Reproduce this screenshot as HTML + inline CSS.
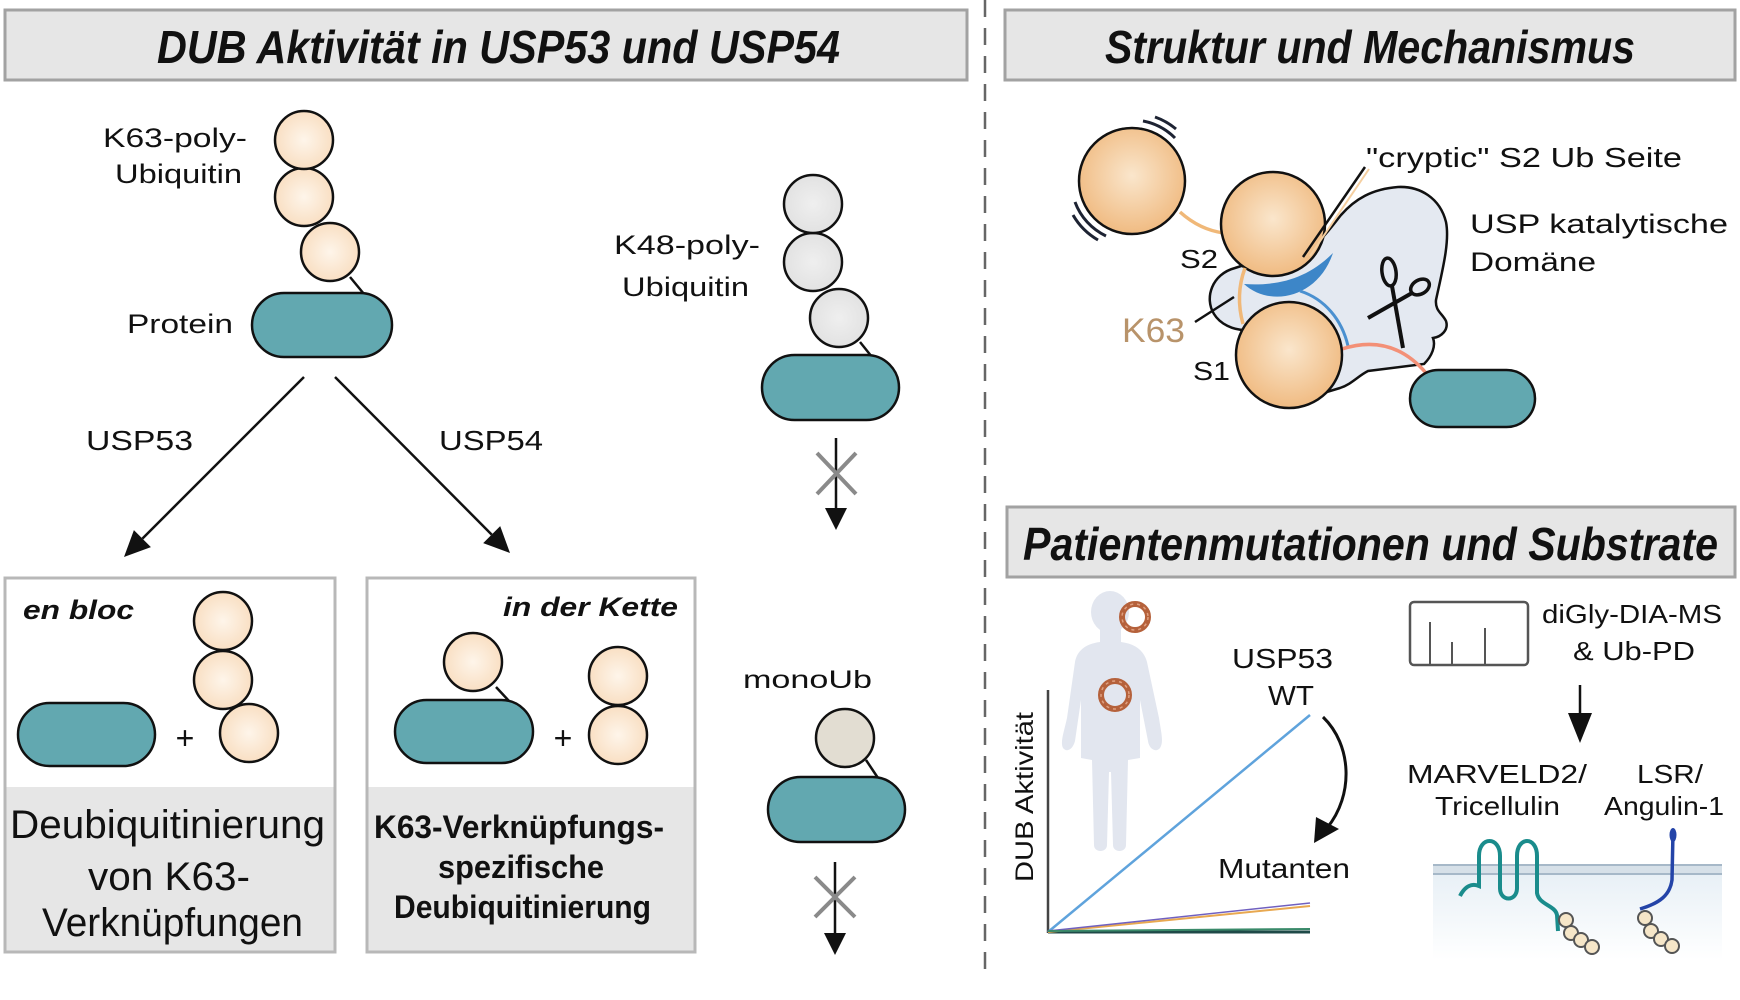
<!DOCTYPE html>
<html><head><meta charset="utf-8"><style>
html,body{margin:0;padding:0;background:#fff;}
svg{display:block;}
text{font-family:"Liberation Sans",Arial,sans-serif;fill:#111;}
</style></head><body>
<svg width="1740" height="1000" viewBox="0 0 1740 1000" xmlns="http://www.w3.org/2000/svg">
<defs>
<radialGradient id="pale" cx="50%" cy="50%" r="50%"><stop offset="0" stop-color="#fef5ea"/><stop offset="1" stop-color="#f9dfc3"/></radialGradient>
<radialGradient id="org" cx="50%" cy="45%" r="55%"><stop offset="0" stop-color="#fae6cc"/><stop offset="1" stop-color="#f0bb82"/></radialGradient>
<radialGradient id="gry" cx="50%" cy="50%" r="50%"><stop offset="0" stop-color="#efefef"/><stop offset="1" stop-color="#e2e2e2"/></radialGradient>
<linearGradient id="cyto" x1="0" y1="0" x2="0" y2="1"><stop offset="0" stop-color="#e8f0f6"/><stop offset="1" stop-color="#ffffff"/></linearGradient>
</defs>

<!-- divider -->
<line x1="985" y1="0" x2="985" y2="980" stroke="#666" stroke-width="2.5" stroke-dasharray="17 11"/>

<!-- title boxes -->
<rect x="5" y="10" width="962" height="70" fill="#e6e6e6" stroke="#a2a2a2" stroke-width="3"/>
<text x="157" y="63" font-size="46" font-weight="bold" font-style="italic" textLength="683" lengthAdjust="spacingAndGlyphs">DUB Aktivität in USP53 und USP54</text>
<rect x="1005" y="10" width="730" height="70" fill="#e6e6e6" stroke="#a2a2a2" stroke-width="3"/>
<text x="1105" y="63" font-size="46" font-weight="bold" font-style="italic" textLength="530" lengthAdjust="spacingAndGlyphs">Struktur und Mechanismus</text>
<rect x="1007" y="507" width="728" height="70" fill="#e6e6e6" stroke="#a2a2a2" stroke-width="3"/>
<text x="1023" y="560" font-size="46" font-weight="bold" font-style="italic" textLength="695" lengthAdjust="spacingAndGlyphs">Patientenmutationen und Substrate</text>

<!-- K63 chain -->
<text x="103" y="147" font-size="27" textLength="144" lengthAdjust="spacingAndGlyphs">K63-poly-</text>
<text x="115" y="183" font-size="27" textLength="127" lengthAdjust="spacingAndGlyphs">Ubiquitin</text>
<text x="127" y="333" font-size="27" textLength="106" lengthAdjust="spacingAndGlyphs">Protein</text>
<line x1="350" y1="277" x2="364" y2="294" stroke="#111" stroke-width="2.5"/>
<circle cx="330" cy="252" r="29" fill="url(#pale)" stroke="#111" stroke-width="2.5"/>
<circle cx="304" cy="197" r="29" fill="url(#pale)" stroke="#111" stroke-width="2.5"/>
<circle cx="304" cy="140" r="29" fill="url(#pale)" stroke="#111" stroke-width="2.5"/>
<rect x="252" y="293" width="140" height="64" rx="32" fill="#62a8b0" stroke="#111" stroke-width="2.5"/>

<!-- branching arrows -->
<line x1="304" y1="377" x2="142.4" y2="538.6" stroke="#111" stroke-width="2.5"/>
<polygon points="124,557 150.9,547.1 133.9,530.1" fill="#111"/>
<line x1="335" y1="377" x2="491.7" y2="534.6" stroke="#111" stroke-width="2.5"/>
<polygon points="510,553 483.2,543.1 500.2,526.1" fill="#111"/>
<text x="86" y="450" font-size="28" textLength="107" lengthAdjust="spacingAndGlyphs">USP53</text>
<text x="439" y="450" font-size="28" textLength="104" lengthAdjust="spacingAndGlyphs">USP54</text>

<!-- K48 chain -->
<text x="614" y="254" font-size="27" textLength="146" lengthAdjust="spacingAndGlyphs">K48-poly-</text>
<text x="622" y="296" font-size="27" textLength="127" lengthAdjust="spacingAndGlyphs">Ubiquitin</text>
<line x1="860" y1="342" x2="872" y2="357" stroke="#111" stroke-width="2.5"/>
<circle cx="839" cy="318" r="29" fill="url(#gry)" stroke="#111" stroke-width="2.5"/>
<circle cx="813" cy="262" r="29" fill="url(#gry)" stroke="#111" stroke-width="2.5"/>
<circle cx="813" cy="204" r="29" fill="url(#gry)" stroke="#111" stroke-width="2.5"/>
<rect x="762" y="355" width="137" height="65" rx="32.5" fill="#62a8b0" stroke="#111" stroke-width="2.5"/>
<line x1="836" y1="438" x2="836" y2="510" stroke="#111" stroke-width="2.5"/>
<polygon points="825,508 847,508 836,530" fill="#111"/>
<line x1="817" y1="453" x2="856" y2="494" stroke="#8a8a8a" stroke-width="4"/>
<line x1="856" y1="453" x2="817" y2="494" stroke="#8a8a8a" stroke-width="4"/>

<!-- monoUb -->
<text x="743" y="688" font-size="25" textLength="129" lengthAdjust="spacingAndGlyphs">monoUb</text>
<line x1="866" y1="760" x2="878" y2="778" stroke="#111" stroke-width="2.5"/>
<circle cx="845" cy="738" r="29" fill="#e2ddd2" stroke="#111" stroke-width="2.5"/>
<rect x="768" y="777" width="137" height="65" rx="32.5" fill="#62a8b0" stroke="#111" stroke-width="2.5"/>
<line x1="835" y1="862" x2="835" y2="935" stroke="#111" stroke-width="2.5"/>
<polygon points="824,933 846,933 835,955" fill="#111"/>
<line x1="815" y1="877" x2="855" y2="917" stroke="#8a8a8a" stroke-width="4"/>
<line x1="855" y1="877" x2="815" y2="917" stroke="#8a8a8a" stroke-width="4"/>

<!-- Box 1 -->
<rect x="5" y="578" width="330" height="374" fill="#fff" stroke="#b8b8b8" stroke-width="3"/>
<rect x="6.5" y="787" width="327" height="163.5" fill="#e6e6e6"/>
<text x="23" y="619" font-size="27" font-weight="bold" font-style="italic" textLength="111" lengthAdjust="spacingAndGlyphs">en bloc</text>
<rect x="18" y="703" width="137" height="63" rx="31.5" fill="#62a8b0" stroke="#111" stroke-width="2.5"/>
<text x="185" y="749" font-size="32" text-anchor="middle">+</text>
<circle cx="249" cy="733" r="29" fill="url(#pale)" stroke="#111" stroke-width="2.5"/>
<circle cx="223" cy="680" r="29" fill="url(#pale)" stroke="#111" stroke-width="2.5"/>
<circle cx="223" cy="621" r="29" fill="url(#pale)" stroke="#111" stroke-width="2.5"/>
<text x="10" y="838" font-size="40" textLength="315" lengthAdjust="spacingAndGlyphs">Deubiquitinierung</text>
<text x="88" y="890" font-size="40" textLength="162" lengthAdjust="spacingAndGlyphs">von K63-</text>
<text x="42" y="936" font-size="40" textLength="261" lengthAdjust="spacingAndGlyphs">Verknüpfungen</text>

<!-- Box 2 -->
<rect x="367" y="578" width="328" height="374" fill="#fff" stroke="#b8b8b8" stroke-width="3"/>
<rect x="368.5" y="787" width="325" height="163.5" fill="#e6e6e6"/>
<text x="503" y="616" font-size="27" font-weight="bold" font-style="italic" textLength="175" lengthAdjust="spacingAndGlyphs">in der Kette</text>
<line x1="496" y1="687" x2="509" y2="701" stroke="#111" stroke-width="2.5"/>
<circle cx="473" cy="662" r="29" fill="url(#pale)" stroke="#111" stroke-width="2.5"/>
<rect x="395" y="700" width="138" height="63" rx="31.5" fill="#62a8b0" stroke="#111" stroke-width="2.5"/>
<text x="563" y="749" font-size="32" text-anchor="middle">+</text>
<circle cx="618" cy="735" r="29" fill="url(#pale)" stroke="#111" stroke-width="2.5"/>
<circle cx="618" cy="676" r="29" fill="url(#pale)" stroke="#111" stroke-width="2.5"/>
<text x="374" y="838" font-size="32" font-weight="bold" textLength="290" lengthAdjust="spacingAndGlyphs">K63-Verknüpfungs-</text>
<text x="438" y="878" font-size="32" font-weight="bold" textLength="166" lengthAdjust="spacingAndGlyphs">spezifische</text>
<text x="394" y="918" font-size="32" font-weight="bold" textLength="257" lengthAdjust="spacingAndGlyphs">Deubiquitinierung</text>

<!-- Structure panel -->
<path d="M1235,268 C1212,274 1204,298 1214,314 C1220,324 1233,330 1245,330 L1300,400 L1340,388 C1352,384 1358,376 1368,371 L1424,364 C1432,356 1436,346 1433,338 C1441,337 1449,330 1446,321 C1442,313 1435,311 1436,300 C1442,272 1450,242 1446,222 C1440,198 1420,186 1398,187 C1372,189 1355,199 1341,215 C1333,225 1328,232 1320,240 L1285,252 Z" fill="#e4e9f1" stroke="#111" stroke-width="2.5"/>
<!-- motion marks -->
<path d="M1143,121 A61,61 0 0 1 1175,138" fill="none" stroke="#1d2333" stroke-width="3"/>
<path d="M1155,117 A68,68 0 0 1 1176,129" fill="none" stroke="#1d2333" stroke-width="3"/>
<path d="M1075,202 A61,61 0 0 0 1106,236" fill="none" stroke="#1d2333" stroke-width="3"/>
<path d="M1073,215 A68,68 0 0 0 1098,240" fill="none" stroke="#1d2333" stroke-width="3"/>
<!-- linkers -->
<path d="M1180,212 Q1200,230 1224,233" fill="none" stroke="#f0b878" stroke-width="3.5"/>
<circle cx="1132" cy="181" r="53" fill="url(#org)" stroke="#111" stroke-width="2.5"/>
<circle cx="1273" cy="224" r="52" fill="url(#org)" stroke="#111" stroke-width="2.5"/>
<path d="M1245,268 Q1235,295 1243,324" fill="none" stroke="#f0b878" stroke-width="3.5"/>
<!-- blue crescent -->
<path d="M1244,284 C1270,308 1318,298 1333,253 C1306,280 1276,286 1244,284 Z" fill="#3d86c8"/>
<path d="M1300,291 C1325,299 1342,320 1348,346" fill="none" stroke="#4a90d0" stroke-width="3"/>
<path d="M1342,349 Q1392,333 1426,373" fill="none" stroke="#f39077" stroke-width="3.5"/>
<circle cx="1289" cy="355" r="53" fill="url(#org)" stroke="#111" stroke-width="2.5"/>
<rect x="1410" y="370" width="125" height="57" rx="28.5" fill="#62a8b0" stroke="#111" stroke-width="2.5"/>
<!-- scissors -->
<ellipse cx="1389" cy="272" rx="7" ry="14" fill="none" stroke="#111" stroke-width="3.5" transform="rotate(-8 1389 272)"/>
<ellipse cx="1420" cy="287" rx="10" ry="7" fill="none" stroke="#111" stroke-width="3.5" transform="rotate(-30 1420 287)"/>
<line x1="1392" y1="286" x2="1403" y2="348" stroke="#111" stroke-width="4"/>
<line x1="1412" y1="293" x2="1368" y2="318" stroke="#111" stroke-width="4"/>
<!-- pointers -->
<line x1="1310" y1="256" x2="1369" y2="169" stroke="#f5cfa0" stroke-width="2"/>
<line x1="1303" y1="257" x2="1365" y2="167" stroke="#111" stroke-width="2.5"/>
<line x1="1195" y1="322" x2="1234" y2="297" stroke="#111" stroke-width="2.5"/>
<!-- labels -->
<text x="1366" y="167" font-size="28" textLength="316" lengthAdjust="spacingAndGlyphs">"cryptic" S2 Ub Seite</text>
<text x="1470" y="233" font-size="27" textLength="258" lengthAdjust="spacingAndGlyphs">USP katalytische</text>
<text x="1470" y="271" font-size="27" textLength="126" lengthAdjust="spacingAndGlyphs">Domäne</text>
<text x="1180" y="268" font-size="26" textLength="38" lengthAdjust="spacingAndGlyphs">S2</text>
<text x="1122" y="342" font-size="34" style="fill:#b8936a" textLength="63" lengthAdjust="spacingAndGlyphs">K63</text>
<text x="1193" y="380" font-size="26" textLength="37" lengthAdjust="spacingAndGlyphs">S1</text>

<!-- Patient panel: child -->
<ellipse cx="1110" cy="612" rx="19" ry="21" fill="#e2e6ef"/>
<path d="M1100,628 L1100,642 C1085,644 1077,651 1075,662 L1067,718 C1064,732 1060,742 1063,748 C1067,753 1073,749 1075,741 L1081,700 L1081,758 L1092,760 L1094,845 C1094,853 1107,853 1107,845 L1109,772 L1111,772 L1113,845 C1113,853 1126,853 1126,845 L1128,760 L1140,758 L1140,700 L1148,741 C1149,749 1156,753 1160,748 C1164,742 1161,732 1159,718 L1147,662 C1144,651 1136,644 1121,642 L1121,628 Z" fill="#e2e6ef"/>
<circle cx="1135" cy="617" r="13" fill="none" stroke="#b5613b" stroke-width="6"/>
<circle cx="1135" cy="617" r="13" fill="none" stroke="#e0a080" stroke-width="1.5" stroke-dasharray="3 4"/>
<circle cx="1115" cy="695" r="14" fill="none" stroke="#b5613b" stroke-width="6"/>
<circle cx="1115" cy="695" r="14" fill="none" stroke="#e0a080" stroke-width="1.5" stroke-dasharray="3 4"/>
<!-- graph -->
<line x1="1048" y1="690" x2="1048" y2="933" stroke="#444" stroke-width="2.5"/>
<line x1="1048" y1="932" x2="1310" y2="932" stroke="#1f4a48" stroke-width="3"/>
<line x1="1048" y1="932" x2="1310" y2="715" stroke="#5fa3dc" stroke-width="2.5"/>
<line x1="1048" y1="932" x2="1310" y2="906" stroke="#e8a850" stroke-width="2"/>
<line x1="1048" y1="931" x2="1310" y2="903" stroke="#7060c0" stroke-width="1.5"/>
<line x1="1048" y1="931" x2="1310" y2="929" stroke="#3a8a6a" stroke-width="2"/>
<text transform="translate(1033,882) rotate(-90)" x="0" y="0" font-size="25" textLength="170" lengthAdjust="spacingAndGlyphs">DUB Aktivität</text>
<text x="1232" y="668" font-size="28" textLength="101" lengthAdjust="spacingAndGlyphs">USP53</text>
<text x="1268" y="705" font-size="28" textLength="46" lengthAdjust="spacingAndGlyphs">WT</text>
<path d="M1323,717 C1352,745 1354,795 1327,828" fill="none" stroke="#111" stroke-width="3"/>
<polygon points="1314,843 1316,817 1339,829" fill="#111"/>
<text x="1218" y="878" font-size="28" textLength="132" lengthAdjust="spacingAndGlyphs">Mutanten</text>

<!-- substrates -->
<rect x="1410" y="602" width="118" height="63" rx="4" fill="#fff" stroke="#555" stroke-width="2.5"/>
<line x1="1430" y1="622" x2="1430" y2="665" stroke="#555" stroke-width="2"/>
<line x1="1452" y1="642" x2="1452" y2="665" stroke="#555" stroke-width="2"/>
<line x1="1485" y1="628" x2="1485" y2="665" stroke="#555" stroke-width="2"/>
<text x="1542" y="623" font-size="26" textLength="180" lengthAdjust="spacingAndGlyphs">diGly-DIA-MS</text>
<text x="1573" y="660" font-size="26" textLength="122" lengthAdjust="spacingAndGlyphs">&amp; Ub-PD</text>
<line x1="1580" y1="685" x2="1580" y2="716" stroke="#111" stroke-width="2.5"/>
<polygon points="1568,713 1592,713 1580,743" fill="#111"/>
<text x="1407" y="783" font-size="26" textLength="180" lengthAdjust="spacingAndGlyphs">MARVELD2/</text>
<text x="1435" y="815" font-size="26" textLength="125" lengthAdjust="spacingAndGlyphs">Tricellulin</text>
<text x="1637" y="783" font-size="26" textLength="66" lengthAdjust="spacingAndGlyphs">LSR/</text>
<text x="1604" y="815" font-size="26" textLength="120" lengthAdjust="spacingAndGlyphs">Angulin-1</text>
<rect x="1433" y="874" width="289" height="86" fill="url(#cyto)"/>
<rect x="1433" y="865" width="289" height="9" fill="#d6e0e8"/>
<line x1="1433" y1="865" x2="1722" y2="865" stroke="#a6b8c8" stroke-width="2"/>
<line x1="1433" y1="874" x2="1722" y2="874" stroke="#a6b8c8" stroke-width="2"/>
<path d="M1460,896 C1465,886 1472,883 1479,886 L1479,856 C1479,836 1500,836 1500,856 L1500,888 C1500,902 1517,902 1517,888 L1517,856 C1517,836 1537,836 1537,856 L1537,893 C1539,905 1555,905 1557,915 L1558,931" fill="none" stroke="#1a8c8c" stroke-width="4"/>
<g fill="#f6e6c8" stroke="#555" stroke-width="2">
<circle cx="1566" cy="920" r="7"/><circle cx="1571" cy="933" r="7"/><circle cx="1581" cy="940" r="7"/><circle cx="1592" cy="947" r="7"/>
</g>
<path d="M1673,832 L1672,880 C1670,895 1660,903 1640,909" fill="none" stroke="#2444a8" stroke-width="3.5"/>
<ellipse cx="1673" cy="835" rx="3.5" ry="7" fill="#2444a8"/>
<g fill="#f6e6c8" stroke="#555" stroke-width="2">
<circle cx="1645" cy="918" r="7"/><circle cx="1651" cy="931" r="7"/><circle cx="1661" cy="939" r="7"/><circle cx="1672" cy="946" r="7"/>
</g>
</svg>
</body></html>
